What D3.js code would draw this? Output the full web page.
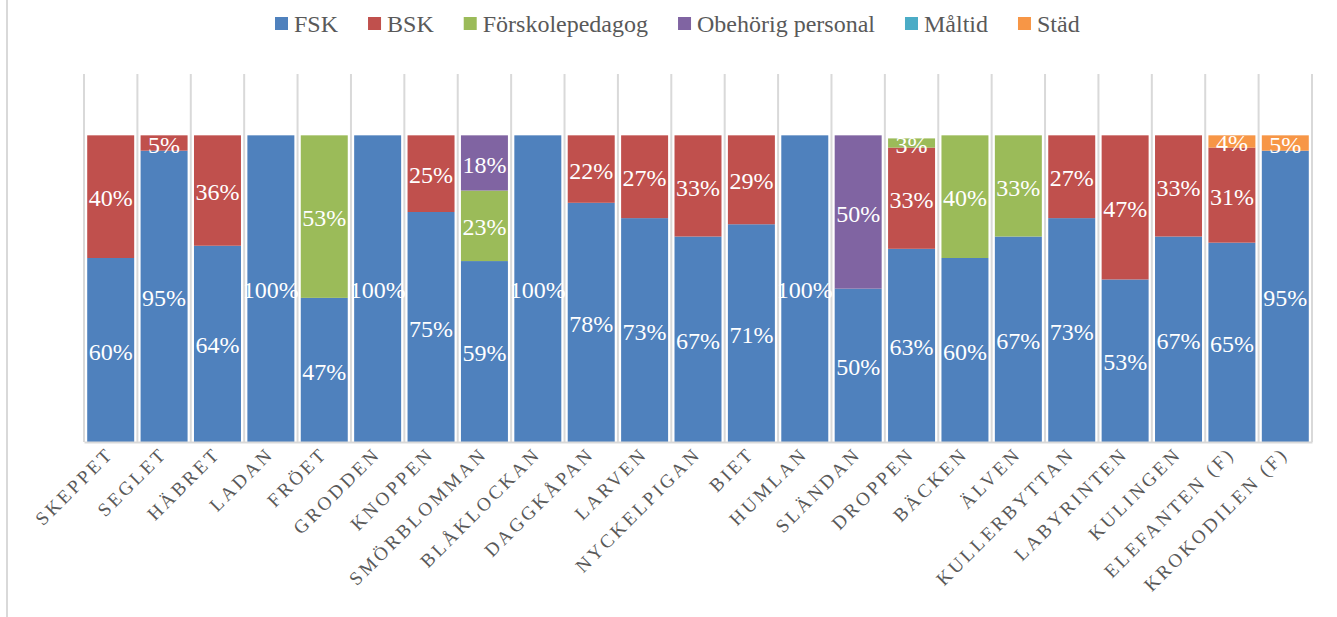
<!DOCTYPE html>
<html>
<head>
<meta charset="utf-8">
<script src="https://cdn.jsdelivr.net/npm/d3@7"></script>
<style>
  body { margin: 0; background: #fff; }
</style>
</head>
<body>
<div id="chart"></div>
<script>
// categories (preschool units)
const units = ["SKEPPET", "SEGLET", "HÄBRET", "LADAN", "FRÖET", "GRODDEN", "KNOPPEN",
  "SMÖRBLOMMAN", "BLÅKLOCKAN", "DAGGKÅPAN", "LARVEN", "NYCKELPIGAN", "BIET", "HUMLAN",
  "SLÄNDAN", "DROPPEN", "BÄCKEN", "ÄLVEN", "KULLERBYTTAN", "LABYRINTEN", "KULINGEN",
  "ELEFANTEN (F)", "KROKODILEN (F)"];

const seriesNames = ["FSK", "BSK", "Förskolepedagog", "Obehörig personal", "Måltid", "Städ"];
const seriesColors = ["#4f81bd", "#c0504d", "#9bbb59", "#8064a2", "#4bacc6", "#f79646"];

// shares in percent, one array per series
const fsk = [60, 95, 64, 100, 47, 100, 75, 59, 100, 78, 73, 67, 71, 100, 50, 63, 60, 67, 73, 53, 67, 65, 95];
const bsk = [40, 5, 36, 0, 0, 0, 25, 0, 0, 22, 27, 33, 29, 0, 0, 33, 0, 0, 27, 47, 33, 31, 0];
const forskolepedagog = [0, 0, 0, 0, 53, 0, 0, 23, 0, 0, 0, 0, 0, 0, 0, 3, 40, 33, 0, 0, 0, 0, 0];
const obehorig = [0, 0, 0, 0, 0, 0, 0, 18, 0, 0, 0, 0, 0, 0, 50, 0, 0, 0, 0, 0, 0, 0, 0];
const maltid = [0, 0, 0, 0, 0, 0, 0, 0, 0, 0, 0, 0, 0, 0, 0, 0, 0, 0, 0, 0, 0, 0, 0];
const stad = [0, 0, 0, 0, 0, 0, 0, 0, 0, 0, 0, 0, 0, 0, 0, 0, 0, 0, 0, 0, 0, 4, 5];

const seriesValues = [fsk, bsk, forskolepedagog, obehorig, maltid, stad];

const FONT = '"Liberation Serif", "DejaVu Serif", serif';
const width = 1337, height = 617;
const margin = { top: 74, right: 25, bottom: 175, left: 84 };
const innerW = width - margin.left - margin.right;
const innerH = height - margin.top - margin.bottom;

const rows = units.map((u, i) => {
  const r = { unit: u };
  seriesNames.forEach((s, j) => { r[s] = seriesValues[j][i]; });
  return r;
});

const stacked = d3.stack().keys(seriesNames)(rows);

const svg = d3.select("#chart").append("svg")
  .attr("width", width)
  .attr("height", height);

// outer frame line on the left
svg.append("line")
  .attr("x1", 7).attr("x2", 7)
  .attr("y1", 0).attr("y2", height)
  .attr("stroke", "#d9d9d9").attr("stroke-width", 2);

const g = svg.append("g").attr("transform", `translate(${margin.left},${margin.top})`);

const x = d3.scaleBand()
  .domain(units)
  .range([0, innerW])
  .paddingInner(0.12)
  .paddingOuter(0.06);

const y = d3.scaleLinear()
  .domain([0, 120])
  .range([innerH, 0]);

// vertical gridlines between categories
const bounds = d3.range(units.length + 1).map(i => i * innerW / units.length);
g.selectAll(".grid")
  .data(bounds)
  .enter().append("line")
  .attr("class", "grid")
  .attr("x1", d => d).attr("x2", d => d)
  .attr("y1", 0).attr("y2", innerH)
  .attr("stroke", "#d9d9d9").attr("stroke-width", 2);

// bars
const layer = g.selectAll(".layer")
  .data(stacked)
  .enter().append("g")
  .attr("class", "layer")
  .attr("fill", (d, i) => seriesColors[i]);

layer.selectAll("rect")
  .data(d => d.filter(p => p[1] - p[0] > 0))
  .enter().append("rect")
  .attr("x", d => x(d.data.unit))
  .attr("width", x.bandwidth())
  .attr("y", d => y(d[1]))
  .attr("height", d => y(d[0]) - y(d[1]));

// value labels
layer.selectAll("text")
  .data(d => d.filter(p => p[1] - p[0] > 0))
  .enter().append("text")
  .attr("x", d => x(d.data.unit) + x.bandwidth() / 2)
  .attr("y", d => y((d[0] + d[1]) / 2))
  .attr("dy", "0.4em")
  .attr("text-anchor", "middle")
  .attr("fill", "#fff")
  .style("font-family", FONT)
  .style("font-size", "24px")
  .text(d => Math.round(d[1] - d[0]) + "%");

// x axis
const xAxis = g.append("g")
  .attr("transform", `translate(0,${innerH})`)
  .call(d3.axisBottom(x).tickSize(0).tickPadding(0));
xAxis.select(".domain").attr("stroke", "#d9d9d9").attr("stroke-width", 2);
xAxis.selectAll("text")
  .attr("fill", "#595959")
  .style("font-family", FONT)
  .style("font-size", "19px")
  .style("letter-spacing", "3px")
  .style("text-anchor", "end")
  .attr("dy", 0)
  .attr("transform", "translate(4,13) rotate(-45)");

// legend
const legend = svg.append("g").attr("transform", "translate(0,24)");
let lx = 275;
seriesNames.forEach((s, i) => {
  const item = legend.append("g").attr("transform", `translate(${lx},0)`);
  item.append("rect")
    .attr("x", 0).attr("y", -7)
    .attr("width", 13).attr("height", 13)
    .attr("fill", seriesColors[i]);
  const t = item.append("text")
    .attr("x", 19)
    .attr("dy", "0.35em")
    .attr("fill", "#595959")
    .style("font-family", FONT)
    .style("font-size", "24px")
    .text(s);
  lx += 19 + t.node().getComputedTextLength() + 30;
});
</script>
</body>
</html>
